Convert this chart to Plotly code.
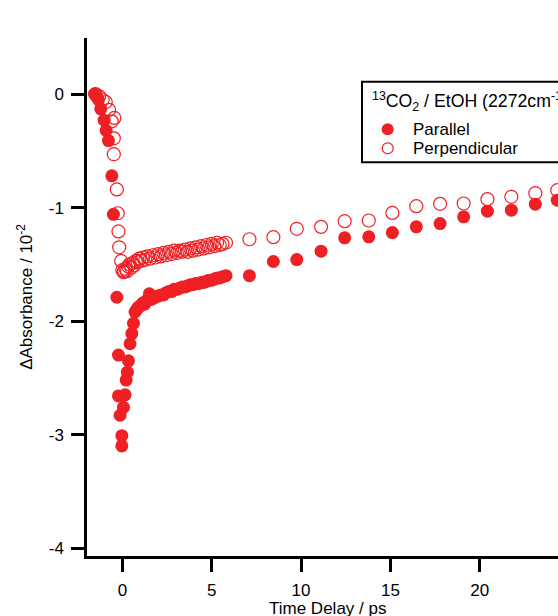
import plotly.graph_objects as go

# ---- data ----
par_t = [-1.56, -1.45, -1.34, -1.21, -1.02, -0.91, -0.78, -0.59, -0.50, -0.31, -0.22, -0.22, -0.13,
         -0.03, -0.03, 0.06, 0.15, 0.21, 0.28, 0.34, 0.43, 0.53, 0.62, 0.71, 0.80, 0.88, 0.97, 1.05,
         1.15, 1.25, 1.35, 1.51, 1.60, 1.72, 1.85, 2.00, 2.15, 2.30, 2.45, 2.60, 2.75, 2.90, 3.05,
         3.20, 3.35, 3.50, 3.65, 3.80, 3.95, 4.10, 4.25, 4.40, 4.55, 4.70, 4.85, 5.00, 5.15, 5.30,
         5.45, 5.60, 5.80, 7.11, 8.45, 9.76, 11.12, 12.44, 13.79, 15.11, 16.45, 17.78, 19.10,
         20.43, 21.77, 23.11, 24.34]
par_a = [0.00, -0.02, -0.05, -0.13, -0.23, -0.32, -0.41, -0.72, -1.06, -1.79, -2.30, -2.66, -2.83,
         -3.01, -3.10, -2.76, -2.65, -2.52, -2.45, -2.35, -2.20, -2.11, -2.02, -1.92, -1.90, -1.88,
         -1.87, -1.86, -1.84, -1.85, -1.82, -1.76, -1.81, -1.80, -1.79, -1.78, -1.77, -1.77, -1.75,
         -1.74, -1.74, -1.72, -1.72, -1.71, -1.70, -1.70, -1.69, -1.68, -1.68, -1.67, -1.67, -1.66,
         -1.66, -1.65, -1.64, -1.64, -1.63, -1.62, -1.62, -1.61, -1.60, -1.60, -1.475, -1.458,
         -1.384, -1.267, -1.258, -1.220, -1.170, -1.141, -1.082, -1.032, -1.023, -0.970, -0.935]

perp_t = [-1.50, -1.30, -1.10, -0.93, -0.74, -0.60, -0.45, -0.48, -0.48, -0.31, -0.26, -0.22, -0.18,
          -0.07, 0.00, 0.07, 0.10, 0.18, 0.25, 0.33, 0.40, 0.50, 0.58, 0.66, 0.75, 0.85, 0.95, 1.05,
          1.15, 1.28, 1.40, 1.55, 1.70, 1.85, 2.00, 2.15, 2.30, 2.45, 2.60, 2.75, 2.90, 3.05, 3.20,
          3.35, 3.50, 3.65, 3.80, 3.95, 4.10, 4.25, 4.40, 4.55, 4.70, 4.85, 5.00, 5.15, 5.30, 5.45,
          5.60, 5.80, 7.11, 8.45, 9.76, 11.12, 12.44, 13.79, 15.11, 16.45, 17.78, 19.10, 20.43,
          21.77, 23.11, 24.34]
perp_a = [0.00, -0.02, -0.05, -0.07, -0.14, -0.24, -0.21, -0.39, -0.53, -0.84, -1.05, -1.21, -1.35,
          -1.47, -1.55, -1.57, -1.56, -1.54, -1.56, -1.52, -1.50, -1.53, -1.49, -1.51, -1.47, -1.48,
          -1.45, -1.47, -1.44, -1.46, -1.43, -1.45, -1.42, -1.44, -1.41, -1.43, -1.40, -1.42, -1.39,
          -1.41, -1.38, -1.40, -1.38, -1.39, -1.37, -1.39, -1.36, -1.38, -1.35, -1.37, -1.34, -1.36,
          -1.33, -1.35, -1.32, -1.34, -1.31, -1.33, -1.32, -1.31, -1.279, -1.261, -1.187, -1.170,
          -1.120, -1.114, -1.047, -0.988, -0.967, -0.964, -0.926, -0.905, -0.873, -0.847]

x_ticks = [0, 5, 10, 15, 20, 25]
x_tick_labels = ["0", "5", "10", "15", "20", "25"]
y_ticks = [0, -1, -2, -3, -4]
y_tick_labels = ["0", "-1", "-2", "-3", "-4"]

legend_title = "<sup>13</sup>CO<sub>2</sub> / EtOH (2272cm<sup>-1</sup>)"
series_names = ["Parallel", "Perpendicular"]
x_title = "Time Delay / ps"
y_title = "ΔAbsorbance / 10<sup>-2</sup>"

RED = "#EE2024"
FONT = "Liberation Sans, Arial, sans-serif"
FS = 17

fig = go.Figure()
fig.add_trace(go.Scatter(
    x=par_t, y=par_a, mode="markers", name=series_names[0], showlegend=False,
    marker=dict(symbol="circle", size=13, color=RED, line=dict(width=0)),
))
fig.add_trace(go.Scatter(
    x=perp_t, y=perp_a, mode="markers", name=series_names[1], showlegend=False,
    marker=dict(symbol="circle-open", size=13, color=RED, line=dict(width=1.2, color=RED)),
))

axis_common = dict(
    showline=True, linecolor="black", linewidth=2.5, mirror=False,
    ticks="outside", ticklen=13, tickwidth=2.5, tickcolor="black",
    showgrid=False, zeroline=False, ticklabelstandoff=4,
    tickfont=dict(family=FONT, size=FS, color="black"),
)

# manual legend (box, keys and texts in paper coordinates)
shapes = [
    dict(type="rect", xref="paper", yref="paper", x0=0.5839, x1=1.3, y0=0.7600, y1=0.9156,
         line=dict(color="black", width=2), fillcolor="white", layer="above"),
    dict(type="circle", xref="paper", yref="paper", xsizemode="pixel", ysizemode="pixel",
         xanchor=0.6384, yanchor=0.8237, x0=-6, x1=6, y0=-6, y1=6,
         fillcolor=RED, line=dict(width=0), layer="above"),
    dict(type="circle", xref="paper", yref="paper", xsizemode="pixel", ysizemode="pixel",
         xanchor=0.6384, yanchor=0.7871, x0=-5.5, x1=5.5, y0=-5.5, y1=5.5,
         fillcolor="rgba(0,0,0,0)", line=dict(width=1.2, color=RED), layer="above"),
]
annotations = [
    dict(text=legend_title, xref="paper", yref="paper", x=0.600, y=0.878,
         xanchor="left", yanchor="middle", showarrow=False,
         font=dict(family=FONT, size=17.7, color="black")),
    dict(text=series_names[0], xref="paper", yref="paper", x=0.687, y=0.8237,
         xanchor="left", yanchor="middle", showarrow=False,
         font=dict(family=FONT, size=FS, color="black")),
    dict(text=series_names[1], xref="paper", yref="paper", x=0.687, y=0.7871,
         xanchor="left", yanchor="middle", showarrow=False,
         font=dict(family=FONT, size=FS, color="black")),
    dict(text=x_title, xref="paper", yref="paper", x=0.5096, y=-0.079,
         xanchor="center", yanchor="top", showarrow=False,
         font=dict(family=FONT, size=FS, color="black")),
]

fig.update_layout(
    width=558, height=616,
    paper_bgcolor="white", plot_bgcolor="white",
    margin=dict(l=87, r=0, t=38, b=60, autoexpand=False),
    font=dict(family=FONT, size=FS, color="black"),
    xaxis=dict(
        range=[-1.98, 24.38], tickmode="array", tickvals=x_ticks, ticktext=x_tick_labels,
        **axis_common,
    ),
    yaxis=dict(
        range=[-4.07, 0.494], tickmode="array", tickvals=y_ticks, ticktext=y_tick_labels,
        title=dict(text=y_title, font=dict(family=FONT, size=FS), standoff=12),
        **axis_common,
    ),
    showlegend=False,
    shapes=shapes,
    annotations=annotations,
)

fig.write_html(
    "out.html",
    config={"displayModeBar": False},
    post_script="document.body.style.margin='0';document.body.style.overflow='hidden';",
)
